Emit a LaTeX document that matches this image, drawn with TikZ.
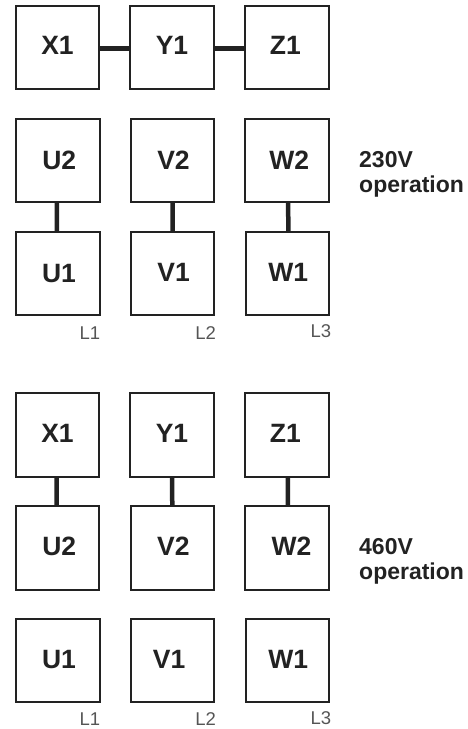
\documentclass[tikz,border=0pt]{standalone}
\usepackage{fontspec}
\setmainfont{Liberation Sans}
\definecolor{inkdark}{HTML}{222222}
\definecolor{inkgray}{HTML}{555555}
% shift a label inside its box: dx, baseline below box centre, text
\newcommand{\shiftlbl}[3]{\kern#1pt\smash{\raisebox{-#2pt}{#3}}\kern-#1pt}
\tikzset{
    termbox/.style={draw=inkdark, line width=2pt, minimum size=83.5pt, inner sep=0pt, outer sep=0pt,
        text=inkdark, font=\fontsize{26.5pt}{26.5pt}\selectfont\bfseries},
    wire/.style={draw=inkdark, line width=4.5pt},
    linetag/.style={text=inkgray, inner sep=0pt, anchor=base, font=\fontsize{18.5pt}{18.5pt}\selectfont},
    modetag/.style={text=inkdark, inner sep=0pt, anchor=north west, align=left,
        font=\fontsize{23pt}{25pt}\selectfont\bfseries},
}
\begin{document}
\begin{tikzpicture}[x=1pt,y=-1pt]
    \useasboundingbox (0,0) rectangle (468,729);

    % 230V
    \node[termbox] (xa) at (57.5,47.7) {\shiftlbl{0}{6.8}{X1}};
    \node[termbox] (ya) at (172,47.7) {\shiftlbl{0}{6.8}{Y1}};
    \node[termbox] (za) at (286.8,47.7) {\shiftlbl{-1.5}{6.8}{Z1}};
    \node[termbox] (ub) at (57.8,160.7) {\shiftlbl{1.5}{8.3}{U2}};
    \node[termbox] (vb) at (172.5,160.7) {\shiftlbl{1}{8.3}{V2}};
    \node[termbox] (wb) at (287.2,160.7) {\shiftlbl{2}{8.3}{W2}};
    \node[termbox] (ua) at (58,273.7) {\shiftlbl{1}{9}{U1}};
    \node[termbox] (va) at (172.7,273.7) {\shiftlbl{1}{7.5}{V1}};
    \node[termbox] (wa) at (287.3,273.7) {\shiftlbl{1}{7.5}{W1}};

    \draw[wire] ([yshift=-0.7pt]xa.east) -- ([yshift=-0.7pt]ya.west);
    \draw[wire] ([yshift=-0.7pt]ya.east) -- ([yshift=-0.7pt]za.west);
    \draw[wire] ([xshift=-1pt]ub.south) -- ([xshift=-1pt]ua.north);
    \draw[wire] (vb.south) -- (va.north);
    \draw[wire] ([xshift=1pt]wb.south) -- ([xshift=1pt]wa.north);

    \node[linetag] (la) at (90,339) {L1};
    \node[linetag] (lb) at (205.7,339) {L2};
    \node[linetag] (lc) at (321,337) {L3};
    \node[modetag] (modea) at (359,151.5) {230V\\operation};

    % 460V
    \node[termbox] (xc) at (57.5,434.8) {\shiftlbl{0}{7.4}{X1}};
    \node[termbox] (yc) at (172,434.8) {\shiftlbl{0}{7.4}{Y1}};
    \node[termbox] (zc) at (286.8,434.8) {\shiftlbl{-1.5}{7.4}{Z1}};
    \node[termbox] (ud) at (57.7,547.8) {\shiftlbl{1.5}{7.8}{U2}};
    \node[termbox] (vd) at (172.3,547.8) {\shiftlbl{1}{7.8}{V2}};
    \node[termbox] (wd) at (287,547.8) {\shiftlbl{4.5}{7.8}{W2}};
    \node[termbox] (ue) at (58,660.5) {\shiftlbl{1}{8}{U1}};
    \node[termbox] (ve) at (172.7,660.5) {\shiftlbl{-3.5}{8}{V1}};
    \node[termbox] (we) at (287.3,660.5) {\shiftlbl{1}{8}{W1}};

    \draw[wire] ([xshift=-1pt]xc.south) -- ([xshift=-1pt]ud.north);
    \draw[wire] (yc.south) -- (vd.north);
    \draw[wire] ([xshift=1pt]zc.south) -- ([xshift=1pt]wd.north);

    \node[linetag] (ld) at (90,725.5) {L1};
    \node[linetag] (le) at (205.7,725.5) {L2};
    \node[linetag] (lf) at (321,724) {L3};
    \node[modetag] (modeb) at (359,538.5) {460V\\operation};
\end{tikzpicture}
\end{document}
